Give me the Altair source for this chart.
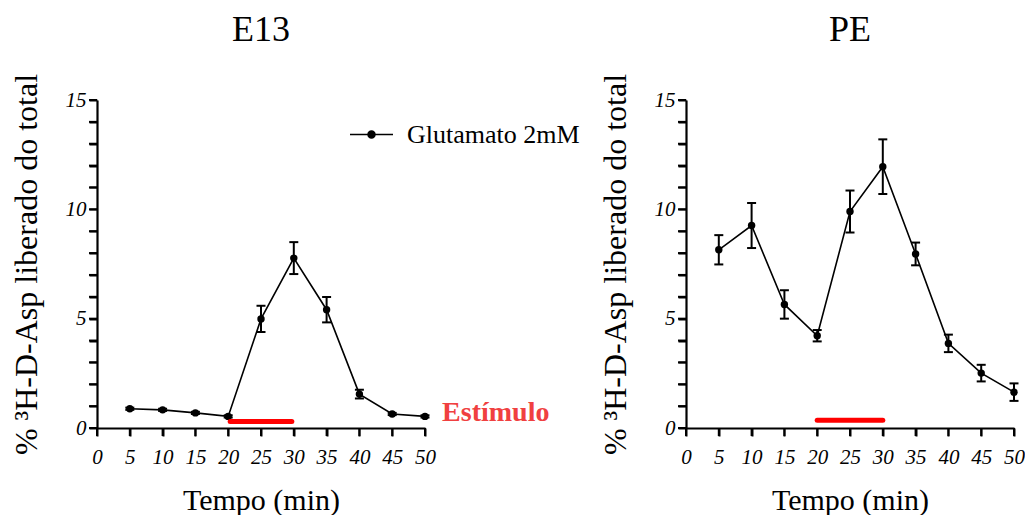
import altair as alt
import pandas as pd

FONT = "Liberation Serif"

# ---- data ----
time_min = [5, 10, 15, 20, 25, 30, 35, 40, 45, 50]
e13_mean = [0.88, 0.83, 0.69, 0.53, 4.99, 7.77, 5.41, 1.55, 0.64, 0.53]
e13_sem = [0.05, 0.05, 0.05, 0.05, 0.60, 0.73, 0.58, 0.20, 0.05, 0.05]
pe_mean = [8.15, 9.26, 5.65, 4.22, 9.90, 11.95, 7.96, 3.87, 2.51, 1.64]
pe_sem = [0.67, 1.03, 0.65, 0.26, 0.96, 1.25, 0.52, 0.40, 0.38, 0.40]
series_name = "Glutamato 2mM"
panel_titles = ["E13", "PE"]
stim_start = [20.3, 20.0]
stim_end = [29.7, 30.0]
stim_level = [0.30, 0.35]
stim_label = "Estímulo"
stim_label_x = 52.6
stim_label_y = 0.69
x_ticks = [0, 5, 10, 15, 20, 25, 30, 35, 40, 45, 50]
y_ticks = list(range(0, 16))
x_title = "Tempo (min)"
y_title = "% ³H-D-Asp liberado do total"

W, H = 328, 328
TICK = 8

xs = alt.Scale(domain=[0, 50], nice=False, zero=False)
ys = alt.Scale(domain=[0, 15], nice=False)
axis_style = dict(ticks=True, tickSize=TICK, tickWidth=2, tickColor="#000000", tickOpacity=1,
                  domain=True, domainColor="#000000", domainWidth=2.2, domainOpacity=1)
x_axis = alt.Axis(values=x_ticks, title=x_title, format="d", labelOverlap=False, **axis_style)
y_axis = alt.Axis(values=y_ticks, title=y_title, labelOverlap=False,
                  labelExpr="datum.value % 5 == 0 ? datum.label : ''", **axis_style)


def X(field):
    return alt.X(field, type="quantitative", scale=xs, axis=x_axis)


def Y(field):
    return alt.Y(field, type="quantitative", scale=ys, axis=y_axis)


def panel(title, mean, sem, s_start, s_end, s_level, show_legend, show_label):
    df = pd.DataFrame({
        "t": time_min,
        "m": mean,
        "lo": [m - e for m, e in zip(mean, sem)],
        "hi": [m + e for m, e in zip(mean, sem)],
        "s": [series_name] * len(time_min),
    })
    base = alt.Chart(df)
    line = base.mark_line(color="black", strokeWidth=1.6).encode(x=X("t"), y=Y("m"))
    bars = base.mark_rule(color="black", strokeWidth=2).encode(
        x=X("t"), y=Y("lo"), y2="hi")
    cap_lo = base.mark_tick(orient="horizontal", size=9, thickness=2, color="black",
                            opacity=1).encode(x=X("t"), y=Y("lo"))
    cap_hi = base.mark_tick(orient="horizontal", size=9, thickness=2, color="black",
                            opacity=1).encode(x=X("t"), y=Y("hi"))
    if show_legend:
        legend = alt.Legend(
            title=None, orient="none", legendX=252, legendY=12, padding=0,
            symbolType="M-1,0H1M-0.16,0A0.16,0.16,0,1,1,0.16,0A0.16,0.16,0,1,1,-0.16,0Z",
            symbolSize=1849, labelOffset=13, labelFont=FONT, labelFontSize=26,
            labelColor="black", labelFontStyle="normal", labelLimit=400,
            symbolFillColor="black", symbolStrokeColor="black",
            symbolStrokeWidth=1.6, symbolOpacity=1)
    else:
        legend = None
    pts = base.mark_point(filled=True, size=55, opacity=1).encode(
        x=X("t"), y=Y("m"),
        color=alt.Color("s:N", scale=alt.Scale(range=["black"]), legend=legend))

    # axis tick marks, placed through the scales
    ytk = alt.Chart(pd.DataFrame({"v": y_ticks})).mark_rule(
        color="black", strokeWidth=2).encode(
        y=Y("v"), x=alt.value(0), x2=alt.value(-TICK))
    xtk = alt.Chart(pd.DataFrame({"v": x_ticks})).mark_rule(
        color="black", strokeWidth=2).encode(
        x=X("v"), y=alt.value(H), y2=alt.value(H + TICK))

    stim_df = pd.DataFrame({"a": [s_start], "b": [s_end], "y": [s_level]})
    stim = alt.Chart(stim_df).mark_rule(color="#ff0000", strokeWidth=5, strokeCap="round").encode(
        x=X("a"), x2="b", y=Y("y"))
    layers = [ytk, xtk, line, bars, cap_lo, cap_hi, pts, stim]
    if show_label:
        lab_df = pd.DataFrame({"x": [stim_label_x], "y": [stim_label_y], "l": [stim_label]})
        lab = alt.Chart(lab_df).mark_text(
            align="left", baseline="middle", font=FONT, fontSize=28, fontWeight="bold",
            color="#f04040").encode(x=X("x"), y=Y("y"), text="l:N")
        layers.append(lab)
    return alt.layer(*layers).properties(
        width=W, height=H,
        title=alt.Title(title, font=FONT, fontSize=36, fontWeight="normal",
                        color="black", offset=24, frame="group", anchor="middle"))


left = panel(panel_titles[0], e13_mean, e13_sem, stim_start[0], stim_end[0], stim_level[0], True, True)
right = panel(panel_titles[1], pe_mean, pe_sem, stim_start[1], stim_end[1], stim_level[1], False, False)

chart = alt.hconcat(left, right, spacing=19).resolve_scale(color="independent").resolve_legend(
    color="independent").configure_view(stroke=None).configure_axis(
    labelFont=FONT, labelFontStyle="italic", labelFontSize=21, labelColor="black",
    labelPadding=3, titleFont=FONT, titleFontWeight="normal", titleColor="black",
    grid=False
).configure_axisX(titleFontSize=30, labelPadding=10, titlePadding=18, labelFlush=False
).configure_axisY(titleFontSize=32, titlePadding=22).properties(
    padding={"left": 2, "top": 4, "right": 0, "bottom": 0}, background="white")

chart.save("out.html", embed_options={"renderer": "svg", "actions": False})
